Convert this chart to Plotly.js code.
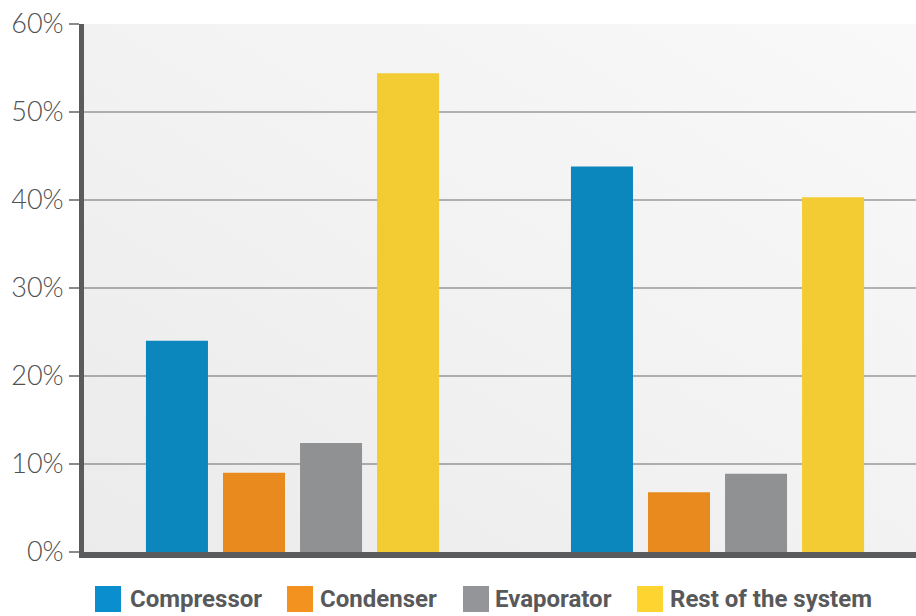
<!DOCTYPE html>
<html>
<head>
<meta charset="utf-8">
<script src="https://cdn.plot.ly/plotly-3.0.1.min.js"></script>
<style>html,body{margin:0;padding:0;background:#fff;}#chart{width:916px;height:616px;}</style>
</head>
<body>
<div id="chart"></div>
<script>
// ---- data ----
var groups = ['Group 1', 'Group 2'];
var seriesNames = ['Compressor', 'Condenser', 'Evaporator', 'Rest of the system'];
var compressor = [24.0, 43.8];
var condenser = [9.0, 6.8];
var evaporator = [12.4, 8.9];
var restOfSystem = [54.4, 40.3];
var yTickVals = [0, 10, 20, 30, 40, 50, 60];
var yTickText = ['0%', '10%', '20%', '30%', '40%', '50%', '60%'];

// ---- styles ----
var barColors = ['#0b87bd', '#e88a1e', '#8f9193', '#f3cb32'];
var legendColors = ['#0a8ecd', '#f3921f', '#939598', '#fdd430'];
var seriesValues = [compressor, condenser, evaporator, restOfSystem];

var L = 84, T = 24, W = 832, H = 528;
function px2paperX(p) { return (p - L) / W; }
function px2paperY(p) { return (T + H - p) / H; }

var traces = seriesNames.map(function (name, i) {
  return {
    type: 'bar', name: name, x: groups, y: seriesValues[i],
    marker: { color: barColors[i] }, showlegend: false, hoverinfo: 'name+y'
  };
});

// legend (built from series names/colors)
var legendSwatchX = [95, 287, 463, 637];
var legendTextX = [128, 318, 493, 668];
var shapes = [], annotations = [];
seriesNames.forEach(function (name, i) {
  shapes.push({
    type: 'rect', xref: 'paper', yref: 'paper', layer: 'above',
    x0: px2paperX(legendSwatchX[i]), x1: px2paperX(legendSwatchX[i] + 26),
    y0: px2paperY(612), y1: px2paperY(586),
    fillcolor: legendColors[i], line: { width: 0 }
  });
  annotations.push({
    xref: 'paper', yref: 'paper', x: px2paperX(legendTextX[i]), y: px2paperY(599),
    xanchor: 'left', yanchor: 'middle', showarrow: false, text: name,
    font: { family: 'Roboto, sans-serif', size: 24, color: '#58595b', weight: 'bold' }
  });
});

var gradSvg = "<svg xmlns='http://www.w3.org/2000/svg' width='100' height='100' preserveAspectRatio='none'>" +
  "<defs><linearGradient id='g' x1='0' y1='1' x2='1' y2='0'>" +
  "<stop offset='0' stop-color='#ebebeb'/><stop offset='1' stop-color='#f9f9f9'/></linearGradient></defs>" +
  "<rect width='100' height='100' fill='url(#g)'/></svg>";

var layout = {
  width: 916, height: 616,
  margin: { l: L, r: 916 - L - W, t: T, b: 616 - T - H, pad: 0 },
  paper_bgcolor: '#ffffff',
  plot_bgcolor: '#f2f3f3',
  barmode: 'group',
  bargap: 0.275,
  bargroupgap: 0.195,
  showlegend: false,
  xaxis: {
    type: 'category', range: [-0.4906, 1.467], showticklabels: false, ticks: '',
    showgrid: false, zeroline: false, showline: true, linecolor: '#5a5b5d', linewidth: 6,
    fixedrange: true
  },
  yaxis: {
    range: [0, 60], tickmode: 'array', tickvals: yTickVals, ticktext: yTickText,
    tickfont: { family: 'Lato, Open Sans, sans-serif', size: 27, color: '#4f5052', weight: 300 },
    ticks: 'outside', ticklen: 10, tickwidth: 1.5, tickcolor: '#8a8a8a',
    showgrid: true, gridcolor: 'rgba(0,0,0,0.28)', gridwidth: 1.5,
    zeroline: false, showline: true, linecolor: '#5a5b5d', linewidth: 5,
    layer: 'above traces', fixedrange: true
  },
  images: [{
    source: 'data:image/svg+xml;charset=utf-8,' + encodeURIComponent(gradSvg),
    xref: 'paper', yref: 'paper', x: 0, y: 1, sizex: 1, sizey: 1,
    sizing: 'stretch', xanchor: 'left', yanchor: 'top', layer: 'below'
  }],
  shapes: shapes,
  annotations: annotations
};

Plotly.newPlot('chart', traces, layout, { displayModeBar: false, staticPlot: true });
</script>
</body>
</html>
